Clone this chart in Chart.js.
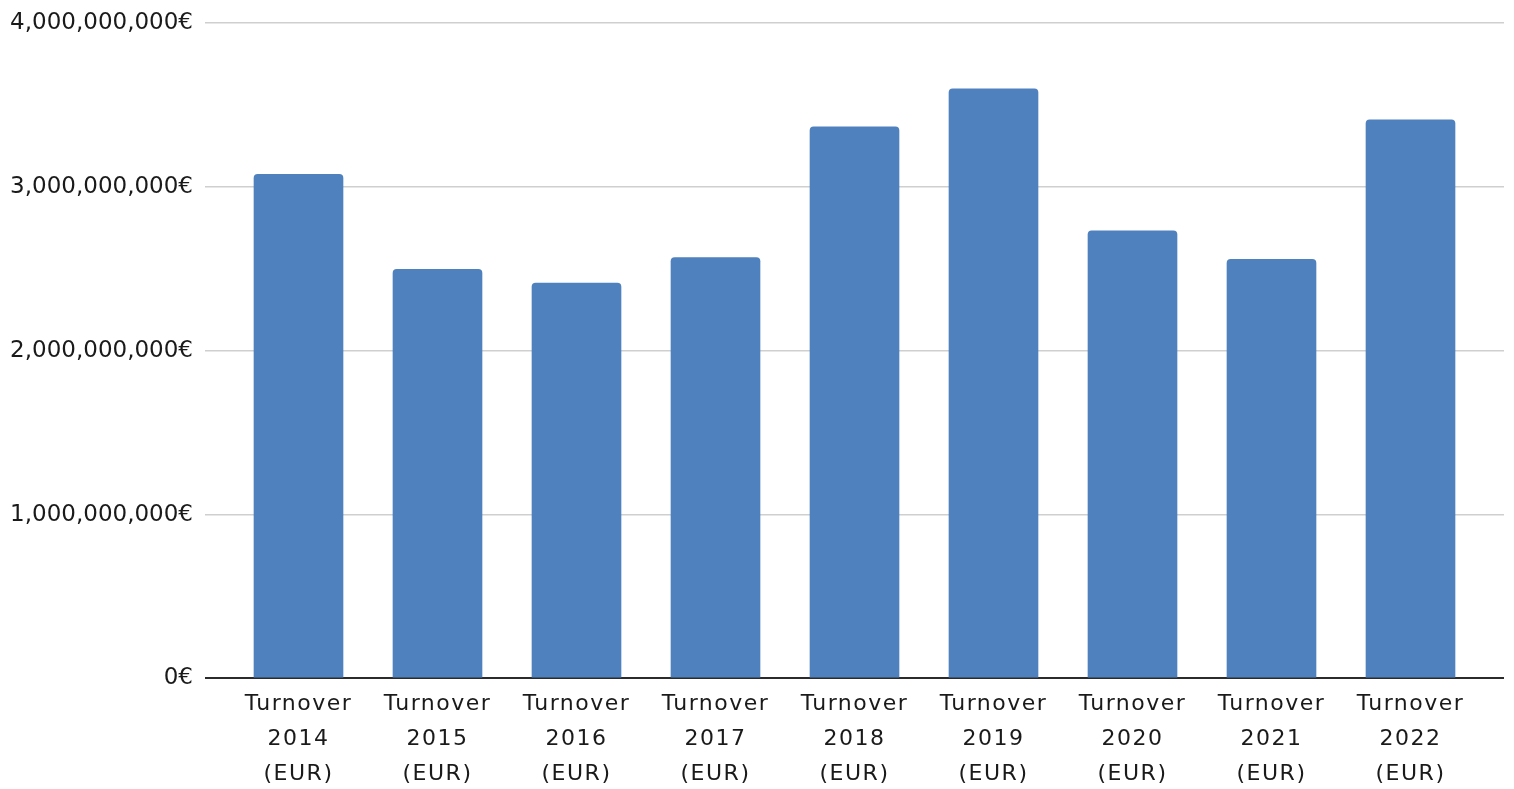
<!DOCTYPE html>
<html>
<head>
<meta charset="utf-8">
<script src="https://cdn.jsdelivr.net/npm/chart.js@4/dist/chart.umd.min.js"></script>
<style>
  html, body { margin: 0; padding: 0; background: #ffffff; overflow: hidden; }
  #wrap { width: 1514px; height: 789px; position: relative; }
</style>
</head>
<body>
<div id="wrap"><canvas id="chart"></canvas></div>
<script>
// Annual turnover, in euros
const years = ['2014', '2015', '2016', '2017', '2018', '2019', '2020', '2021', '2022'];
const turnover = [3078000000, 2498000000, 2415000000, 2570000000, 3368000000, 3601000000, 2733000000, 2560000000, 3411000000];
const yTicks = [0, 1000000000, 2000000000, 3000000000, 4000000000];

const categories = years.map(y => ['Turnover', y, '(EUR)']);

// Category axis whose labels are drawn with a little extra letter spacing
class SpacedCategoryScale extends Chart.CategoryScale {
  drawLabels(area) {
    const ctx = this.ctx;
    ctx.save();
    ctx.letterSpacing = '1.5px';
    super.drawLabels(area);
    ctx.restore();
  }
}
SpacedCategoryScale.id = 'spacedCategory';
SpacedCategoryScale.defaults = Chart.CategoryScale.defaults;
Chart.register(SpacedCategoryScale);

const gridColor = ctx => (ctx.tick && ctx.tick.value === 0) ? '#2b2b2b' : '#cfcfcf';
const gridWidth = ctx => (ctx.tick && ctx.tick.value === 0) ? 2 : 1.5;
const setTicks = scale => { scale.ticks = yTicks.map(v => ({ value: v })); };
const euro = v => Number(v).toLocaleString('en-US') + '€';

new Chart(document.getElementById('chart'), {
  type: 'bar',
  data: {
    labels: categories,
    datasets: [{
      data: turnover,
      backgroundColor: '#4e81bd',
      borderRadius: { topLeft: 4, topRight: 4, bottomLeft: 0, bottomRight: 0 },
      borderSkipped: false,
      categoryPercentage: 1,
      barPercentage: 0.645
    }]
  },
  options: {
    responsive: true,
    maintainAspectRatio: false,
    animation: false,
    devicePixelRatio: 1,
    layout: { padding: { top: 23, left: 10, right: 10, bottom: -3 } },
    plugins: { legend: { display: false }, tooltip: { enabled: false } },
    scales: {
      x: {
        type: 'spacedCategory',
        offset: true,
        grid: { display: false },
        border: { display: false },
        ticks: {
          color: '#1a1a1a',
          autoSkip: false,
          maxRotation: 0,
          padding: 0,
          font: { family: 'DejaVu Sans', size: 22, lineHeight: 1.6 }
        }
      },
      y: {
        min: 0,
        max: 4000000000,
        afterBuildTicks: setTicks,
        afterFit: scale => { scale.width = 219; scale.paddingTop = 0; scale.paddingBottom = 0; },
        border: { display: false },
        grid: { color: gridColor, lineWidth: gridWidth, drawTicks: true, tickLength: 24 },
        ticks: {
          color: '#1a1a1a',
          padding: 12,
          callback: euro,
          font: { family: 'DejaVu Sans', size: 23 }
        }
      },
      y2: {
        position: 'right',
        min: 0,
        max: 4000000000,
        afterBuildTicks: setTicks,
        afterFit: scale => { scale.paddingTop = 0; scale.paddingBottom = 0; },
        border: { display: false },
        grid: { color: gridColor, lineWidth: gridWidth, drawOnChartArea: false, drawTicks: true, tickLength: 24 },
        ticks: { display: false }
      }
    }
  }
});
</script>
</body>
</html>
